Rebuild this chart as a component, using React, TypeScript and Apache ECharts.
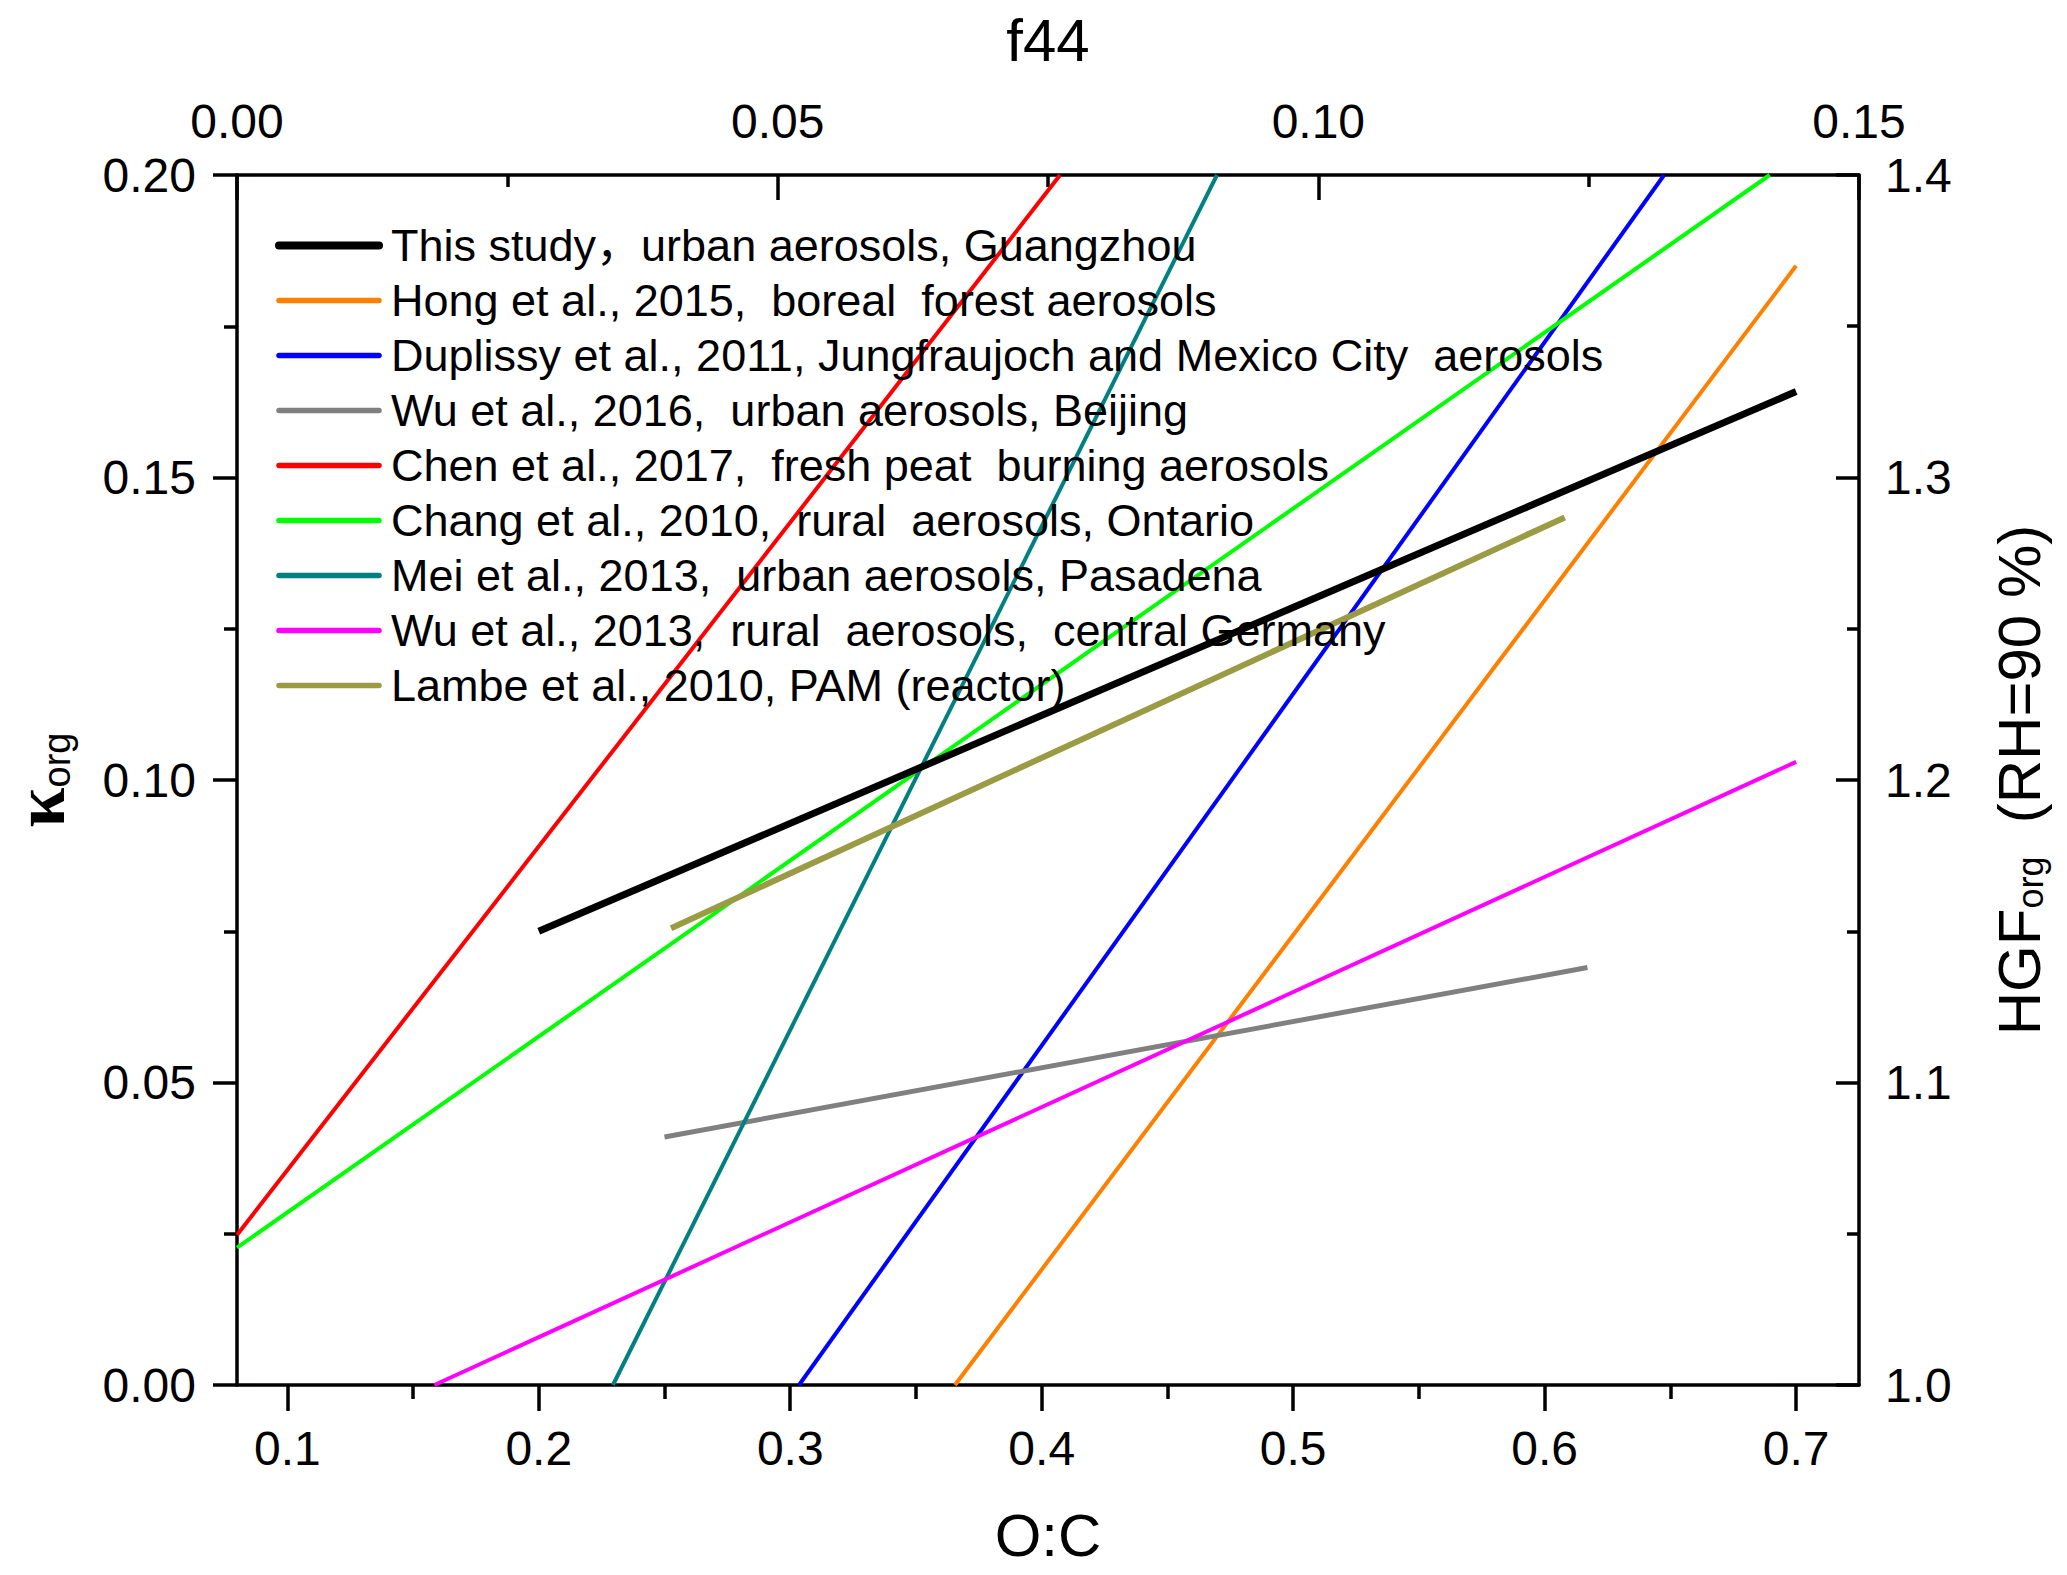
import React, { useEffect, useRef } from "react";
import * as echarts from "echarts";

// ---------- data ----------
const SERIES_NAMES = [
  "This study，urban aerosols, Guangzhou",
  "Hong et al., 2015,  boreal  forest aerosols",
  "Duplissy et al., 2011, Jungfraujoch and Mexico City  aerosols",
  "Wu et al., 2016,  urban aerosols, Beijing",
  "Chen et al., 2017,  fresh peat  burning aerosols",
  "Chang et al., 2010,  rural  aerosols, Ontario",
  "Mei et al., 2013,  urban aerosols, Pasadena",
  "Wu et al., 2013,  rural  aerosols,  central Germany",
  "Lambe et al., 2010, PAM (reactor)",
];

// [O:C, kappa_org] end points of each fitted line
const THIS_STUDY = [[0.2, 0.075], [0.7, 0.1642]];
const HONG_2015 = [[0.3655, 0], [0.7, 0.185]];
const DUPLISSY_2011 = [[0.3035, 0], [0.6475, 0.2]];
const WU_2016 = [[0.25, 0.041], [0.617, 0.069]];
const CHEN_2017 = [[0.08, 0.0248], [0.4073, 0.2]];
const CHANG_2010 = [[0.08, 0.0227], [0.6895, 0.2]];
const MEI_2013 = [[0.2295, 0], [0.4697, 0.2]];
const WU_2013 = [[0.1585, 0], [0.7, 0.103]];
const LAMBE_2010 = [[0.2526, 0.0755], [0.608, 0.1434]];

const SERIES_DATA = [
  THIS_STUDY,
  HONG_2015,
  DUPLISSY_2011,
  WU_2016,
  CHEN_2017,
  CHANG_2010,
  MEI_2013,
  WU_2013,
  LAMBE_2010,
];

// axis ranges / ticks
const OC_RANGE = [0.08, 0.725];
const OC_TICKS = [0.1, 0.2, 0.3, 0.4, 0.5, 0.6, 0.7];
const OC_MINOR_TICKS = [0.15, 0.25, 0.35, 0.45, 0.55, 0.65];
const F44_RANGE = [0, 0.15];
const F44_STEP = 0.05;
const KAPPA_RANGE = [0, 0.2];
const KAPPA_STEP = 0.05;
const HGF_RANGE = [1.0, 1.4];
const HGF_STEP = 0.1;

// ---------- styles ----------
const SERIES_COLORS = [
  "#000000",
  "#FF8000",
  "#0000FF",
  "#808080",
  "#FF0000",
  "#00FF00",
  "#008080",
  "#FF00FF",
  "#9B9B45",
];
const SERIES_WIDTHS = [7, 4, 4, 5, 4, 4, 4, 4, 6];

const FONT = "'Liberation Sans', 'Noto Sans CJK SC', Arial, sans-serif";
const BLACK = "#000";
const AXIS_W = 3.5;

export default function App() {
  const ref = useRef<HTMLDivElement>(null);

  useEffect(() => {
    if (!ref.current) return;
    const chart = echarts.init(ref.current, null, { renderer: "svg" });

    const lineStyle = { color: BLACK, width: AXIS_W };

    const option: any = {
      animation: false,
      backgroundColor: "#ffffff",
      textStyle: { fontFamily: FONT, color: BLACK },
      grid: {
        left: 237,
        right: 208,
        top: 175,
        bottom: 190,
        containLabel: false,
        outerBoundsMode: "none",
      },
      legend: {
        show: true,
        orient: "vertical",
        left: 270,
        top: 218,
        itemWidth: 100,
        itemHeight: 14,
        itemGap: 10,
        selectedMode: false,
        itemStyle: { opacity: 0, borderWidth: 0 },
        textStyle: {
          fontSize: 45,
          color: BLACK,
          fontFamily: FONT,
          padding: [0, 0, 0, 7],
        },
        lineStyle: { width: 5.5, cap: "round" },
        data: SERIES_NAMES.map((n, i) =>
          i === 0 ? { name: n, lineStyle: { width: 8, cap: "round" } } : n
        ),
      },
      xAxis: [
        {
          type: "value",
          position: "bottom",
          min: OC_RANGE[0],
          max: OC_RANGE[1],
          name: "O:C",
          nameLocation: "middle",
          nameGap: 120,
          nameMoveOverlap: false,
          nameTextStyle: { fontSize: 60, color: BLACK, fontFamily: FONT },
          axisLine: { show: true, onZero: false, lineStyle },
          axisTick: {
            show: true,
            inside: false,
            length: 26,
            customValues: OC_TICKS,
            lineStyle,
          },
          axisLabel: {
            show: true,
            customValues: OC_TICKS,
            margin: 39,
            fontSize: 48,
            color: BLACK,
            fontFamily: FONT,
            formatter: (v: number) => v.toFixed(1),
          },
          splitLine: { show: false },
        },
        {
          type: "value",
          position: "top",
          min: F44_RANGE[0],
          max: F44_RANGE[1],
          interval: F44_STEP,
          name: "f44",
          nameLocation: "middle",
          nameGap: 105,
          nameMoveOverlap: false,
          nameTextStyle: { fontSize: 60, color: BLACK, fontFamily: FONT },
          axisLine: { show: true, onZero: false, lineStyle },
          axisTick: { show: true, inside: true, length: 25, lineStyle },
          minorTick: { show: true, splitNumber: 2, length: 12, lineStyle },
          axisLabel: {
            show: true,
            margin: 30,
            fontSize: 48,
            color: BLACK,
            fontFamily: FONT,
            formatter: (v: number) => v.toFixed(2),
          },
          splitLine: { show: false },
          minorSplitLine: { show: false },
        },
        {
          type: "value",
          position: "bottom",
          min: OC_RANGE[0],
          max: OC_RANGE[1],
          axisLine: { show: false, onZero: false },
          axisTick: {
            show: true,
            inside: false,
            length: 14,
            customValues: OC_MINOR_TICKS,
            lineStyle,
          },
          axisLabel: { show: false },
          splitLine: { show: false },
        },
      ],
      yAxis: [
        {
          type: "value",
          position: "left",
          min: KAPPA_RANGE[0],
          max: KAPPA_RANGE[1],
          interval: KAPPA_STEP,
          name: "{k|κ}{s|org}",
          nameLocation: "middle",
          nameGap: 161,
          nameMoveOverlap: false,
          nameTextStyle: {
            color: BLACK,
            rich: {
              k: {
                fontSize: 72,
                lineHeight: 72,
                fontFamily: "'Liberation Serif', 'DejaVu Serif', serif",
                fontWeight: "bold",
                color: BLACK,
              },
              s: {
                fontSize: 38,
                lineHeight: 22,
                fontFamily: FONT,
                verticalAlign: "bottom",
                color: BLACK,
              },
            },
          },
          axisLine: { show: true, onZero: false, lineStyle },
          axisTick: { show: true, inside: false, length: 24, lineStyle },
          minorTick: { show: true, splitNumber: 2, length: 13, lineStyle },
          axisLabel: {
            show: true,
            margin: 41,
            fontSize: 48,
            color: BLACK,
            fontFamily: FONT,
            formatter: (v: number) => v.toFixed(2),
          },
          splitLine: { show: false },
          minorSplitLine: { show: false },
        },
        {
          type: "value",
          position: "right",
          min: HGF_RANGE[0],
          max: HGF_RANGE[1],
          interval: HGF_STEP,
          name: "{a|HGF}{s|org}{a|  (RH=90 %)}",
          nameLocation: "middle",
          nameGap: 130,
          nameMoveOverlap: false,
          nameTextStyle: {
            color: BLACK,
            rich: {
              a: { fontSize: 60, fontFamily: FONT, color: BLACK },
              s: {
                fontSize: 36,
                fontFamily: FONT,
                verticalAlign: "bottom",
                color: BLACK,
              },
            },
          },
          axisLine: { show: true, onZero: false, lineStyle },
          axisTick: { show: true, inside: true, length: 23, lineStyle },
          minorTick: { show: true, splitNumber: 2, length: 12, lineStyle },
          axisLabel: {
            show: true,
            margin: 26,
            fontSize: 48,
            color: BLACK,
            fontFamily: FONT,
            formatter: (v: number) => v.toFixed(1),
          },
          splitLine: { show: false },
          minorSplitLine: { show: false },
        },
      ],
      series: SERIES_NAMES.map((name, i) => ({
        type: "line",
        name,
        xAxisIndex: 0,
        yAxisIndex: 0,
        data: SERIES_DATA[i],
        symbol: "none",
        showSymbol: false,
        silent: true,
        clip: true,
        lineStyle: { color: SERIES_COLORS[i], width: SERIES_WIDTHS[i] },
        itemStyle: { color: SERIES_COLORS[i] },
        emphasis: { disabled: true },
        z: i === 0 ? 3 : 2,
      })),
    };

    chart.setOption(option);
    return () => {
      chart.dispose();
    };
  }, []);

  return (
    <div
      ref={ref}
      style={{
        position: "absolute",
        left: 0,
        top: 0,
        width: "2067px",
        height: "1575px",
        background: "#fff",
      }}
    />
  );
}
